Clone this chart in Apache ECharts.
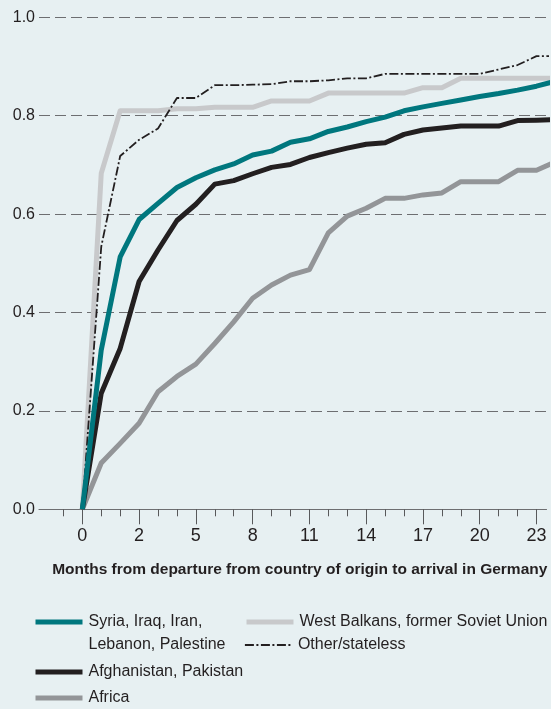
<!DOCTYPE html>
<html>
<head>
<meta charset="utf-8">
<script src="https://cdn.jsdelivr.net/npm/echarts@6/dist/echarts.min.js"></script>
<style>
  html, body { margin: 0; padding: 0; background: #e7f0f2; }
  #chart { width: 551px; height: 709px; }
</style>
</head>
<body>
<div id="chart"></div>
<script>
// Time steps after departure (months); step 1 is the half-month point
const steps = ['0', '0.5', '1', '2', '3', '4', '5', '6', '7', '8', '9', '10', '11', '12',
  '13', '14', '15', '16', '17', '18', '19', '20', '21', '22', '23', '24'];

// Cumulative share of arrivals in Germany, one value per step
const syria = [0, 0.324, 0.513, 0.589, 0.622, 0.654, 0.674, 0.690, 0.702, 0.720, 0.728, 0.746,
  0.753, 0.768, 0.777, 0.788, 0.797, 0.810, 0.818, 0.825, 0.832, 0.839, 0.845, 0.852, 0.860, 0.870];
const afghanistan = [0, 0.236, 0.327, 0.463, 0.527, 0.587, 0.620, 0.661, 0.668, 0.682, 0.695, 0.701,
  0.715, 0.725, 0.734, 0.742, 0.745, 0.762, 0.771, 0.775, 0.779, 0.779, 0.779, 0.790, 0.791, 0.792];
const africa = [0, 0.094, 0.134, 0.175, 0.239, 0.270, 0.295, 0.337, 0.381, 0.429, 0.456, 0.476,
  0.487, 0.562, 0.596, 0.612, 0.632, 0.632, 0.639, 0.643, 0.666, 0.666, 0.666, 0.689, 0.689, 0.706];
const westBalkans = [0, 0.683, 0.810, 0.810, 0.810, 0.814, 0.814, 0.817, 0.817, 0.817, 0.830, 0.830,
  0.830, 0.846, 0.846, 0.846, 0.846, 0.846, 0.857, 0.857, 0.876, 0.876, 0.876, 0.876, 0.876, 0.876];
const otherStateless = [0, 0.534, 0.718, 0.751, 0.774, 0.836, 0.836, 0.862, 0.862, 0.863, 0.864, 0.870,
  0.870, 0.872, 0.876, 0.876, 0.885, 0.885, 0.885, 0.885, 0.885, 0.885, 0.894, 0.903, 0.921, 0.921];

const yTicks = [0, 0.2, 0.4, 0.6, 0.8, 1.0];

const names = {
  syria: 'Syria, Iraq, Iran, Lebanon, Palestine',
  afghanistan: 'Afghanistan, Pakistan',
  africa: 'Africa',
  westBalkans: 'West Balkans, former Soviet Union',
  other: 'Other/stateless'
};

const FONT = "'Liberation Sans', Arial, sans-serif";
const INK = '#231f20';

const toPoints = vals => vals.map((v, i) => [i, v]);
const labelledSteps = steps.map((_, i) => i).filter(i => i % 3 === 0 && i <= 24);
const allTickSteps = [-1].concat(steps.map((_, i) => i).filter(i => i <= 24));

const chart = echarts.init(document.getElementById('chart'), null, { renderer: 'canvas' });

// One legend block per entry so each row sits where it belongs
function legendAt(name, left, top, lineWidth) {
  return {
    data: [name],
    left: left,
    top: top,
    padding: 0,
    orient: 'vertical',
    selectedMode: false,
    itemWidth: 47,
    itemHeight: 10,
    itemStyle: { opacity: 0 },
    lineStyle: { width: lineWidth },
    textStyle: { fontFamily: FONT, fontSize: 16, color: INK, lineHeight: 23, padding: [0, 0, 0, 1] },
    // the two-line entry gets an empty first line so its first text line sits level with the sample
    formatter: n => n === names.syria ? ' \nSyria, Iraq, Iran,\nLebanon, Palestine' : n
  };
}

const option = {
  backgroundColor: '#e7f0f2',
  animation: false,
  grid: { left: 39, right: 4.5, top: 17.3, bottom: 199.7, containLabel: false },
  xAxis: [
    {
      type: 'value', min: -2.29, max: 24.53, position: 'bottom',
      axisLine: { show: true, onZero: false, lineStyle: { color: '#6d6e71', width: 1.2 } },
      axisTick: { show: true, length: 7, customValues: allTickSteps, lineStyle: { color: '#58595b', width: 1 } },
      axisLabel: { show: false },
      splitLine: { show: false }
    },
    {
      type: 'value', min: -2.29, max: 24.53, position: 'bottom',
      axisLine: { show: false },
      axisTick: { show: true, length: 15, customValues: labelledSteps, lineStyle: { color: '#58595b', width: 1 } },
      axisLabel: {
        show: true, customValues: labelledSteps, margin: 18,
        fontFamily: FONT, fontSize: 18, color: INK,
        formatter: v => steps[v]
      },
      splitLine: { show: false },
      name: 'Months from departure from country of origin to arrival in Germany',
      nameLocation: 'middle',
      nameGap: 52,
      nameTextStyle: { fontFamily: FONT, fontSize: 15.5, fontWeight: 'bold', color: INK, padding: [0, 0, 0, 14] }
    }
  ],
  yAxis: {
    type: 'value', min: 0, max: 1, interval: 0.2,
    axisLine: { show: false },
    axisTick: { show: false },
    axisLabel: {
      margin: 4, fontFamily: FONT, fontSize: 16, color: INK,
      customValues: yTicks,
      formatter: v => v.toFixed(1)
    },
    splitLine: { show: true, lineStyle: { color: '#6d6e71', width: 1, type: [11, 5] } }
  },
  legend: [
    legendAt(names.syria, 33, 587.5, 5),
    legendAt(names.afghanistan, 33, 660.5, 5),
    legendAt(names.africa, 33, 686.5, 5),
    legendAt(names.westBalkans, 244, 610.5, 5),
    legendAt(names.other, 244, 633.5, 1.8)
  ],
  series: [
    {
      name: names.africa, type: 'line', data: toPoints(africa), symbol: 'none',
      lineStyle: { color: '#939598', width: 5, join: 'round' }, itemStyle: { color: '#939598' }, z: 2
    },
    {
      name: names.westBalkans, type: 'line', data: toPoints(westBalkans), symbol: 'none',
      lineStyle: { color: '#c8c9cb', width: 5, join: 'round' }, itemStyle: { color: '#c8c9cb' }, z: 3
    },
    {
      name: names.other, type: 'line', data: toPoints(otherStateless), symbol: 'none',
      lineStyle: { color: INK, width: 1.8, type: [9, 2.5, 2, 2.5] }, itemStyle: { color: INK }, z: 4
    },
    {
      name: names.afghanistan, type: 'line', data: toPoints(afghanistan), symbol: 'none',
      lineStyle: { color: INK, width: 5, join: 'round' }, itemStyle: { color: INK }, z: 5
    },
    {
      name: names.syria, type: 'line', data: toPoints(syria), symbol: 'none',
      lineStyle: { color: '#00777e', width: 5, join: 'round' }, itemStyle: { color: '#00777e' }, z: 6
    }
  ]
};

chart.setOption(option);
</script>
</body>
</html>
